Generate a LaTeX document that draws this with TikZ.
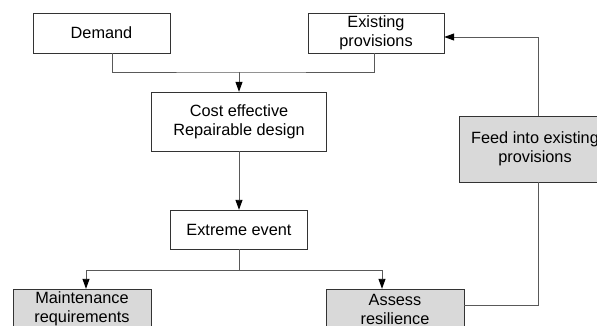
\documentclass[tikz,border=0pt]{standalone}
\usepackage{fontspec}
\setmainfont{Liberation Sans}
\usetikzlibrary{arrows.meta}
\tikzset{box/.style={draw=black!80, fill=white, align=center, inner sep=0pt,
  font=\fontsize{16.3}{19}\selectfont},
  greybox/.style={box, fill=black!15},
  line/.style={draw=black!65, line width=0.9pt},
  arr/.style={line, -{Triangle[length=10pt,width=7pt,color=black]}}}

\begin{document}
\begin{tikzpicture}[x=1pt, y=-1pt]
  \clip (0,0) rectangle (597,326);
  \fill[white] (0,0) rectangle (597,326);
  \node[box, minimum width=137pt, minimum height=40pt] (demand) at (101.5,33) {Demand};
  \node[box, minimum width=136pt, minimum height=40pt] (exist) at (376,33) {Existing\\provisions};
  \node[box, minimum width=175pt, minimum height=59pt] (cost) at (239,121.5) {Cost effective\\Repairable design};
  \node[box, minimum width=137pt, minimum height=39pt] (extreme) at (239,229.5) {Extreme event};
  \node[greybox, minimum width=138pt, minimum height=40pt] (maint) at (82,309) {Maintenance\\requirements};
  \node[greybox, minimum width=138pt, minimum height=40pt] (assess) at (395,309) {Assess\\resilience};
  \node[greybox, minimum width=152pt, minimum height=66pt] (feed) at (535,149) {Feed into existing\\provisions};
  \coordinate (merge) at (239,72);
  \coordinate (split) at (239,270);
  \draw[line] ([xshift=10.5pt]demand.south) |- (merge) -| ([xshift=-2pt]exist.south);
  \draw[arr] (merge) -- (cost.north);
  \draw[arr] (cost.south) -- (extreme.north);
  \draw[line] (extreme.south) -- (split);
  \draw[arr] (split) -| ([xshift=4pt]maint.north);
  \draw[arr] (split) -| ([xshift=-13pt]assess.north);
  \draw[line] ([yshift=4pt]assess.east) -| ([xshift=3pt]feed.south);
  \draw[arr] ([xshift=3pt]feed.north) |- ([yshift=-4pt]exist.east);
\end{tikzpicture}
\end{document}
